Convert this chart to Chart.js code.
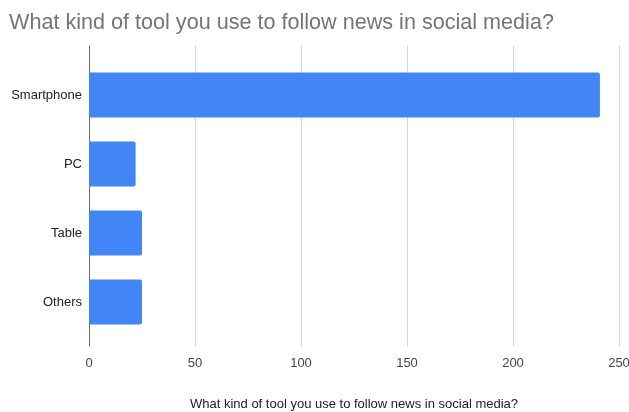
<!DOCTYPE html>
<html>
<head>
<meta charset="utf-8">
<script src="https://cdn.jsdelivr.net/npm/chart.js@4/dist/chart.umd.min.js"></script>
<style>
  html, body { margin: 0; padding: 0; background: #fff; }
  #wrap { width: 629px; height: 412px; position: relative; }
</style>
</head>
<body>
<div id="wrap"><canvas id="chart"></canvas></div>
<script>
const chartTitle = 'What kind of tool you use to follow news in social media?'
const categories = ['Smartphone', 'PC', 'Table', 'Others']
const answers = [241, 22, 25, 25]
const xTicks = [0, 50, 100, 150, 200, 250]

// google-style vertical gridlines that run a little past the plot area
const gridPlugin = {
    id: 'tallGrid',
    beforeDatasetsDraw(chart) {
        const { ctx, chartArea, scales } = chart
        ctx.save()
        ctx.lineWidth = 1
        for (const v of xTicks) {
            const x = Math.round(scales.x.getPixelForValue(v)) + 0.5
            ctx.strokeStyle = v === 0 ? '#6b6b6b' : '#d6d6d6'
            ctx.beginPath()
            ctx.moveTo(x, chartArea.top - 15)
            ctx.lineTo(x, chartArea.bottom + 10)
            ctx.stroke()
        }
        ctx.restore()
    }
}

new Chart(document.getElementById('chart').getContext('2d'), {
    type: 'bar',
    data: {
        labels: categories,
        datasets: [{
            label: chartTitle,
            data: answers,
            backgroundColor: '#4285f4',
            borderRadius: 2,
            borderSkipped: 'start',
            categoryPercentage: 1,
            barPercentage: 0.65
        }]
    },
    options: {
        indexAxis: 'y',
        responsive: true,
        maintainAspectRatio: false,
        animation: false,
        layout: { padding: { left: 9, right: 0, top: 0, bottom: 0 } },
        plugins: {
            legend: { display: false },
            tooltip: { enabled: false },
            title: {
                display: true,
                text: chartTitle,
                align: 'start',
                color: '#757575',
                font: { family: 'Liberation Sans, Arial, sans-serif', size: 21.6, weight: 'normal' },
                padding: { top: 10, bottom: 24.6 },
                fullSize: true
            }
        },
        scales: {
            x: {
                min: 0,
                max: 250,
                afterBuildTicks: scale => { scale.ticks = xTicks.map(v => ({ value: v })) },
                afterFit: scale => {
                    scale.height = 75.5
                    scale.paddingRight = 10
                },
                grid: { display: false, drawTicks: false },
                border: { display: false },
                ticks: {
                    color: '#444',
                    padding: 19,
                    font: { family: 'Liberation Sans, Arial, sans-serif', size: 13 }
                },
                title: {
                    display: true,
                    text: chartTitle,
                    color: '#222',
                    padding: { top: 0, bottom: 0 },
                    font: { family: 'Liberation Sans, Arial, sans-serif', size: 13 }
                }
            },
            y: {
                afterFit: scale => { scale.width = 80 },
                grid: { display: false, drawTicks: false },
                border: { display: false },
                ticks: {
                    color: '#222',
                    padding: 7,
                    font: { family: 'Liberation Sans, Arial, sans-serif', size: 13 }
                }
            }
        }
    },
    plugins: [gridPlugin]
})
</script>
</body>
</html>
